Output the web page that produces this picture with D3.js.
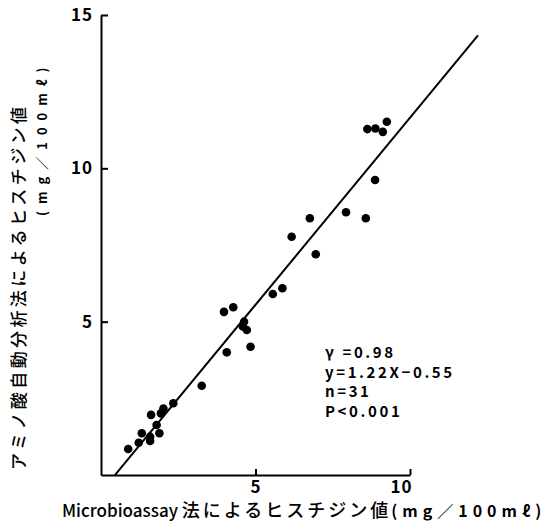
<!DOCTYPE html>
<html><head><meta charset="utf-8">
<script src="https://cdn.jsdelivr.net/npm/d3@7"></script>
<style>
html,body{margin:0;padding:0;background:#fff;}
svg{display:block;}
</style>
</head><body>
<svg id="c" width="554" height="527"></svg>
<script>
// Data
const xValues = [0.88,1.22,1.32,1.59,1.59,1.89,1.80,1.62,1.94,2.02,2.34,3.26,4.07,4.84,4.28,3.98,4.63,4.59,4.72,5.56,5.87,6.95,6.17,6.76,7.93,8.57,8.87,8.62,8.88,9.12,9.25];
const yValues = [0.85,1.05,1.36,1.11,1.25,1.36,1.63,1.96,2.01,2.17,2.34,2.91,4.00,4.18,5.47,5.32,5.00,4.84,4.73,5.90,6.09,7.20,7.77,8.37,8.57,8.37,9.62,11.28,11.30,11.19,11.52];
const xTicks = [5, 10];
const yTicks = [5, 10, 15];
const regression = {slope: 1.22, intercept: -0.55, xStart: 0.45, xEnd: 12.2};
const statLines = ["γ =0.98", "y=1.22X−0.55", "n=31", "P<0.001"];
const xTitleParts = ["Microbioassay ", "法によるヒスチジン値", "(mg／100mℓ)"];
const yTitle = "アミノ酸自動分析法によるヒスチジン値";
const yUnit = "(mg／100mℓ)";

const svg = d3.select("#c");
const x = d3.scaleLinear().domain([0, 10]).range([101, 410]);
const y = d3.scaleLinear().domain([0, 15]).range([475, 15]);
const font = "'Noto Sans CJK JP','Noto Sans',sans-serif";

// axes
const gy = svg.append("g").attr("transform", `translate(${x(0)},0)`)
  .call(d3.axisLeft(y).tickValues(yTicks).tickSize(-7).tickSizeOuter(0).tickPadding(8));
const gx = svg.append("g").attr("transform", `translate(0,${y(0)})`)
  .call(d3.axisBottom(x).tickValues(xTicks).tickSize(-6).tickSizeOuter(0).tickPadding(6));
[gy, gx].forEach(g => {
  g.select(".domain").attr("stroke", "#000").attr("stroke-width", 2);
  g.selectAll(".tick line").attr("stroke", "#000").attr("stroke-width", 2);
  g.selectAll(".tick text").attr("fill", "#000").style("font-family", font)
    .style("font-size", "17px").style("font-weight", "bold").attr("letter-spacing", 1);
});
gx.selectAll(".tick text").attr("dx", d => d === 10 ? -9 : 0);

// regression line
svg.append("line")
  .attr("x1", x(regression.xStart)).attr("y1", y(regression.slope * regression.xStart + regression.intercept))
  .attr("x2", x(regression.xEnd)).attr("y2", y(regression.slope * regression.xEnd + regression.intercept))
  .attr("stroke", "#000").attr("stroke-width", 2);

// points
svg.append("g").selectAll("circle").data(xValues.map((v, i) => [v, yValues[i]]))
  .join("circle").attr("cx", d => x(d[0])).attr("cy", d => y(d[1])).attr("r", 4.3).attr("fill", "#000");

// stats
svg.append("g").selectAll("text").data(statLines).join("text")
  .attr("x", 325).attr("y", (d, i) => 358 + i * 19.7)
  .style("font-family", font).style("font-size", "15px").style("font-weight", "bold")
  .attr("letter-spacing", 2.6)
  .text(d => d);

// x title
const xt = svg.append("text").attr("x", 62).attr("y", 517).style("font-family", font).attr("fill", "#000");
xt.append("tspan").style("font-size", "17px").style("font-weight", "500").text(xTitleParts[0]);
xt.append("tspan").style("font-size", "18px").style("font-weight", "500").attr("letter-spacing", 3).text(xTitleParts[1]);
xt.append("tspan").style("font-size", "16px").style("font-weight", "bold").attr("letter-spacing", 5).text(xTitleParts[2]);

// y titles
svg.append("text").attr("transform", "translate(20,470) rotate(-90)")
  .style("font-family", font).style("font-size", "17px").style("font-weight", "500")
  .attr("letter-spacing", 3.4).attr("dominant-baseline", "middle").text(yTitle);
svg.append("text").attr("transform", "translate(43,216) rotate(-90)")
  .style("font-family", font).style("font-size", "13px").style("font-weight", "bold")
  .attr("letter-spacing", 7).attr("dominant-baseline", "middle").text(yUnit);
</script>
</body></html>
